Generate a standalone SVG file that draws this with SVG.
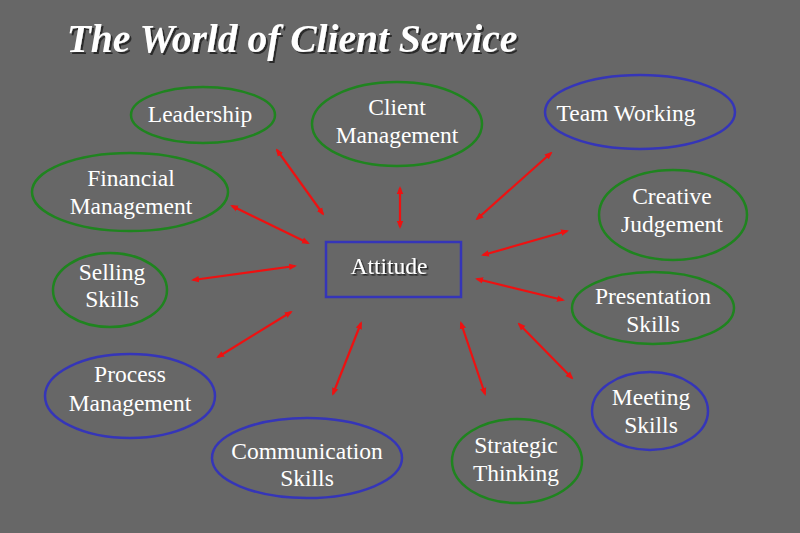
<svg xmlns="http://www.w3.org/2000/svg" width="800" height="533" viewBox="0 0 800 533">
<defs>
<marker id="ah" viewBox="0 0 8 8" refX="6" refY="4" markerWidth="8" markerHeight="8" markerUnits="userSpaceOnUse" orient="auto-start-reverse">
<path d="M0,0.8 L8,4 L0,7.2 z" fill="#ee1111"/>
</marker>
<filter id="sh" x="-10%" y="-20%" width="120%" height="140%">
<feDropShadow dx="2" dy="2" stdDeviation="0.6" flood-color="#222" flood-opacity="0.9"/>
</filter>
<filter id="sh2" x="-10%" y="-20%" width="120%" height="140%">
<feDropShadow dx="1.5" dy="1.5" stdDeviation="0.5" flood-color="#111" flood-opacity="0.8"/>
</filter>
</defs>
<style>
.g{fill:none;stroke:#1f841f;stroke-width:2.5}
.b{fill:none;stroke:#3535b8;stroke-width:2.5}
.t{font-family:"Liberation Serif","Times New Roman",serif;font-size:23.5px;fill:#ffffff;text-anchor:middle}
.c line{stroke:#ee1111;stroke-width:2.2;marker-start:url(#ah);marker-end:url(#ah)}
</style>
<rect width="800" height="533" fill="#676767"/>
<text x="292" y="52" text-anchor="middle" font-family="'Liberation Serif','Times New Roman',serif" font-size="39.5" font-weight="bold" font-style="italic" fill="#ffffff" filter="url(#sh)">The World of Client Service</text>
<g class="c" id="connectors">
<line x1="277" y1="150" x2="323" y2="214"/>
<line x1="400" y1="188" x2="400" y2="227"/>
<line x1="551" y1="153" x2="477" y2="219"/>
<line x1="483" y1="255" x2="567" y2="231"/>
<line x1="477" y1="279" x2="563" y2="300"/>
<line x1="519" y1="324" x2="572" y2="378"/>
<line x1="461" y1="323" x2="485" y2="394"/>
<line x1="361" y1="323" x2="333" y2="394"/>
<line x1="291" y1="312" x2="218" y2="357"/>
<line x1="295" y1="266" x2="193" y2="280"/>
<line x1="308" y1="243" x2="232" y2="206"/>
</g>
<g id="attitude">
<rect x="326" y="242" width="135" height="55" fill="none" stroke="#3535b8" stroke-width="2.5"/>
<text class="t" x="389" y="274" filter="url(#sh2)">Attitude</text>
</g>
<g id="leadership">
<ellipse class="g" cx="203" cy="115" rx="72" ry="28"/>
<text class="t" x="200" y="122">Leadership</text>
</g>
<g id="client-management">
<ellipse class="g" cx="397" cy="124" rx="85" ry="42"/>
<text class="t" x="397" y="115">Client</text>
<text class="t" x="397" y="143">Management</text>
</g>
<g id="team-working">
<ellipse class="b" cx="640" cy="112" rx="95" ry="37"/>
<text class="t" x="626" y="121">Team Working</text>
</g>
<g id="creative-judgement">
<ellipse class="g" cx="673" cy="215" rx="74" ry="45"/>
<text class="t" x="672" y="204">Creative</text>
<text class="t" x="672" y="232">Judgement</text>
</g>
<g id="financial-management">
<ellipse class="g" cx="130" cy="192" rx="98" ry="39"/>
<text class="t" x="131" y="186">Financial</text>
<text class="t" x="131" y="214">Management</text>
</g>
<g id="selling-skills">
<ellipse class="g" cx="110" cy="290" rx="57" ry="37"/>
<text class="t" x="112" y="280">Selling</text>
<text class="t" x="112" y="307">Skills</text>
</g>
<g id="presentation-skills">
<ellipse class="g" cx="653" cy="308" rx="81" ry="36"/>
<text class="t" x="653" y="304">Presentation</text>
<text class="t" x="653" y="332">Skills</text>
</g>
<g id="meeting-skills">
<ellipse class="b" cx="650" cy="411" rx="58" ry="39"/>
<text class="t" x="651" y="405">Meeting</text>
<text class="t" x="651" y="433">Skills</text>
</g>
<g id="process-management">
<ellipse class="b" cx="130" cy="396" rx="85" ry="42"/>
<text class="t" x="130" y="382">Process</text>
<text class="t" x="130" y="411">Management</text>
</g>
<g id="communication-skills">
<ellipse class="b" cx="307" cy="458" rx="95" ry="40"/>
<text class="t" x="307" y="459">Communication</text>
<text class="t" x="307" y="486">Skills</text>
</g>
<g id="strategic-thinking">
<ellipse class="g" cx="517" cy="461" rx="65" ry="42"/>
<text class="t" x="516" y="453">Strategic</text>
<text class="t" x="516" y="481">Thinking</text>
</g>
</svg>
